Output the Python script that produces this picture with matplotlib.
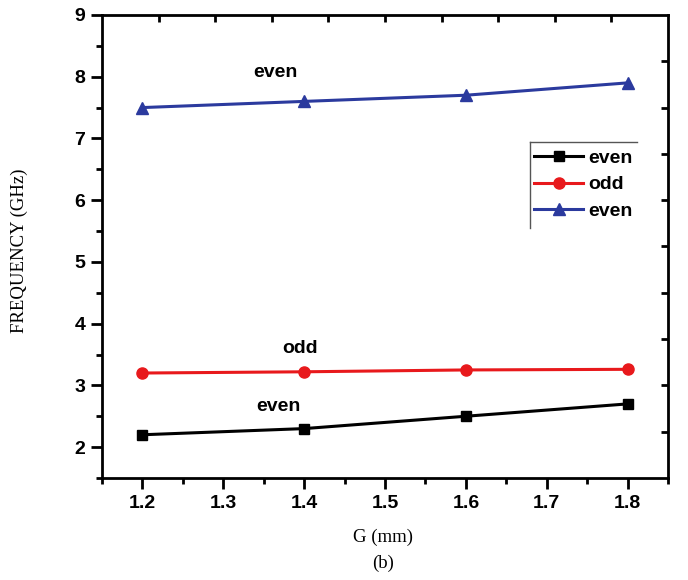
import matplotlib
matplotlib.use("Agg")
import matplotlib.pyplot as plt
from matplotlib.ticker import MultipleLocator

# data
g_mm = [1.2, 1.4, 1.6, 1.8]
even_low = [2.2, 2.3, 2.5, 2.7]
odd_mode = [3.2, 3.22, 3.25, 3.26]
even_high = [7.5, 7.6, 7.7, 7.9]

fig = plt.figure(figsize=(6.88, 5.8), dpi=100)
ax = fig.add_axes([0.1483, 0.1759, 0.8227, 0.7983])

ax.plot(g_mm, even_low, color="black", lw=2.2, marker="s", ms=7, label="even")
ax.plot(g_mm, odd_mode, color="#e8191c", lw=2.2, marker="o", ms=8, label="odd")
ax.plot(g_mm, even_high, color="#2b3a9e", lw=2.2, marker="^", ms=8, label="even")

ax.set_xlim(1.15, 1.85)
ax.set_ylim(1.5, 9)
ax.xaxis.set_major_locator(MultipleLocator(0.1))
ax.xaxis.set_minor_locator(MultipleLocator(0.05))
ax.yaxis.set_major_locator(MultipleLocator(1))
ax.yaxis.set_minor_locator(MultipleLocator(0.5))

for s in ax.spines.values():
    s.set_linewidth(2)

ax.tick_params(which="major", direction="out", length=8, width=2, labelsize=14, pad=4)
ax.tick_params(which="minor", direction="out", length=4, width=2)
for lab in ax.get_xticklabels() + ax.get_yticklabels():
    lab.set_fontweight("bold")
    lab.set_family("Liberation Sans")

# top and right: short inward ticks splitting the frame in ten parts
frac = [i / 10 for i in range(1, 10)]
axt = ax.secondary_xaxis("top", functions=(lambda x: (x - 1.15) / 0.7, lambda f: 1.15 + f * 0.7))
axt.set_xticks(frac)
axt.tick_params(direction="in", length=5, width=2, labeltop=False)
axr = ax.secondary_yaxis("right", functions=(lambda y: (y - 1.5) / 7.5, lambda f: 1.5 + f * 7.5))
axr.set_yticks(frac)
axr.tick_params(direction="in", length=5, width=2, labelright=False)

txt = dict(fontsize=14, fontweight="bold", family="Liberation Sans", ha="center", va="center")
ax.text(1.365, 8.06, "even", **txt)
ax.text(1.395, 3.6, "odd", **txt)
ax.text(1.368, 2.65, "even", **txt)

leg = ax.legend(loc="upper left", bbox_to_anchor=(0.757, 0.718), frameon=False,
                prop={"family": "Liberation Sans", "weight": "bold", "size": 14},
                handlelength=2.5, handletextpad=0.25, labelspacing=0.45,
                borderaxespad=0, borderpad=0.2)
# partial frame: top and left lines only
ax.plot([0.756, 0.756], [0.54, 0.726], transform=ax.transAxes, color="#555555", lw=1, clip_on=False)
ax.plot([0.756, 0.945], [0.726, 0.726], transform=ax.transAxes, color="#555555", lw=1, clip_on=False)

serif = dict(family="Liberation Serif", fontsize=13.5, ha="center", va="center")
fig.text(19 / 688, 1 - 251 / 580, "FREQUENCY (GHz)", rotation=90, **serif)
fig.text(383 / 688, 1 - 537 / 580, "G (mm)", **serif)
fig.text(383 / 688, 1 - 563 / 580, "(b)", **serif)

fig.savefig("out.png", dpi=100)
